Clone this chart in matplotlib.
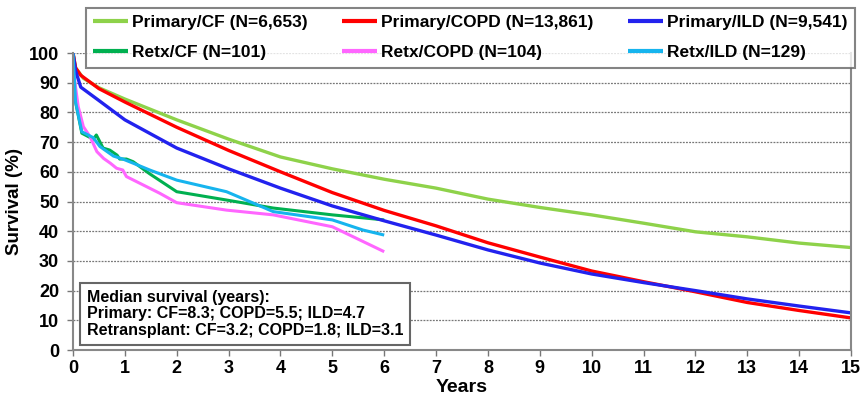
import numpy as np
import matplotlib
matplotlib.use("Agg")
import matplotlib.pyplot as plt

plt.rcParams['font.family'] = ['Liberation Sans', 'DejaVu Sans']
plt.rcParams['font.weight'] = 'bold'

# survival curves (years, survival %)
t_cf = [0, 0.05, 0.2, 0.5, 1, 2, 3, 4, 5, 6, 7, 8, 9, 10, 11, 12, 13, 14, 15]
s_cf = [100, 95, 91.5, 88.3, 84.5, 77.5, 71, 65, 61, 57.5, 54.5, 50.8, 48, 45.5, 42.7, 39.8, 38.1, 36, 34.5]

t_copd = [0, 0.05, 0.15, 0.5, 1, 2, 3, 4, 5, 6, 7, 8, 9, 10, 11, 12, 13, 14, 15]
s_copd = [100, 95, 92.5, 88, 83.5, 75, 67.2, 60, 53, 47, 41.8, 36.1, 31.3, 26.6, 23, 19.6, 16, 13.3, 10.8]

t_ild = [0, 0.05, 0.15, 0.5, 1, 2, 3, 4, 5, 6, 7, 8, 9, 10, 11, 12, 13, 14, 15]
s_ild = [100, 94, 88.5, 84, 77.5, 68, 61, 54.5, 48.5, 43.5, 38.7, 33.7, 29.3, 25.6, 22.7, 20, 17.2, 14.8, 12.5]

t_rcf = [0, 0.05, 0.17, 0.39, 0.45, 0.58, 0.71, 0.85, 0.9, 1.03, 1.16, 1.48, 2.0, 2.96, 3.86, 5.0, 6.0]
s_rcf = [100, 83.5, 73, 71, 72.4, 68, 67.3, 65.6, 64.3, 64.3, 63.4, 59.3, 53.3, 50.5, 47.8, 45.5, 43.8]

t_rcopd = [0, 0.03, 0.1, 0.2, 0.33, 0.46, 0.59, 0.72, 0.84, 0.96, 1.03, 1.35, 1.67, 2.0, 2.96, 3.86, 5.0, 6.0]
s_rcopd = [100, 91, 82, 75.2, 71.8, 66.8, 64.5, 62.9, 61.2, 60.6, 58.4, 55.6, 52.8, 49.6, 47.1, 45.5, 41.5, 33.1]

t_rild = [0, 0.05, 0.17, 0.39, 0.52, 0.78, 0.96, 1.16, 1.48, 2.0, 2.96, 3.86, 5.0, 5.59, 6.0]
s_rild = [100, 83.5, 73.5, 71.5, 68.5, 65.3, 64.3, 62.9, 60.6, 57.2, 53.3, 46.6, 43.8, 40.4, 38.7]

series = [
    ("Primary/CF (N=6,653)", t_cf, s_cf, "#8ed24a", 2.4),
    ("Retx/CF (N=101)", t_rcf, s_rcf, "#00b050", 2.2),
    ("Primary/COPD (N=13,861)", t_copd, s_copd, "#ff0000", 2.4),
    ("Retx/COPD (N=104)", t_rcopd, s_rcopd, "#ff66ff", 2.2),
    ("Primary/ILD (N=9,541)", t_ild, s_ild, "#2222ee", 2.4),
    ("Retx/ILD (N=129)", t_rild, s_rild, "#16b4ee", 2.2),
]

median_text = ("Median survival (years):\n"
               "Primary: CF=8.3; COPD=5.5; ILD=4.7\n"
               "Retransplant: CF=3.2; COPD=1.8; ILD=3.1")

fig = plt.figure(figsize=(8.66, 3.98), dpi=100)
ax = fig.add_axes([0.0843, 0.1206, 0.8984, 0.7462])

for label, t, s, c, lw in series:
    ax.plot(t, s, color=c, linewidth=lw, label=label, solid_capstyle='butt')

ax.set_xlim(0, 15)
ax.set_ylim(0, 100)
ax.set_xticks(range(0, 16))
ax.set_yticks(range(0, 101, 10))
ax.yaxis.grid(True, linestyle=(0, (1.5, 1)), color='#777777', linewidth=0.9)
ax.set_axisbelow(True)
ax.tick_params(axis='both', labelsize=13, direction='out', length=4, color='#777777', width=1)
ax.tick_params(axis='y', pad=6)
for lab in ax.get_xticklabels() + ax.get_yticklabels():
    lab.set_fontweight('bold')
ax.spines['top'].set_visible(False)
for sp in ['left', 'bottom', 'right']:
    ax.spines[sp].set_color('#888888')
    ax.spines[sp].set_linewidth(1.5)

ax.set_xlabel("Years", fontsize=14, fontweight='bold', labelpad=1)
ax.set_ylabel("Survival (%)", fontsize=13.5, fontweight='bold', labelpad=4)

ax.text(0.27, 20.2, median_text, fontsize=11.5, fontweight='bold', va='top', ha='left',
        linespacing=1.12,
        bbox=dict(boxstyle='square,pad=0.42', facecolor='white', edgecolor='#666666', linewidth=1.5))

leg = ax.legend(ncol=3, loc='upper left', bbox_to_anchor=(0.0993, 0.834, 0.888, 0.146),
                bbox_transform=fig.transFigure, mode='expand', frameon=True, fancybox=False,
                prop={'weight': 'bold', 'size': 12.5}, handlelength=2.0, handletextpad=0.25,
                borderaxespad=0, columnspacing=1.0, labelspacing=0.85, borderpad=0.42)
leg.get_frame().set_edgecolor('#666666')
leg.get_frame().set_linewidth(1.5)
for h in leg.get_lines():
    h.set_linewidth(3)

fig.savefig("out.png", dpi=100)
